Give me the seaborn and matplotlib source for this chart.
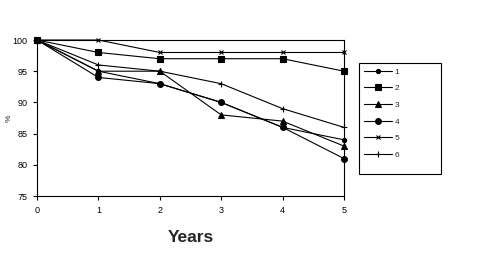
import matplotlib
matplotlib.use("Agg")
import matplotlib.pyplot as plt
from matplotlib.patches import Rectangle
import seaborn as sns
import pandas as pd

years = [0, 1, 2, 3, 4, 5]
s1 = [100, 95, 93, 90, 86, 84]
s2 = [100, 98, 97, 97, 97, 95]
s3 = [100, 95, 95, 88, 87, 83]
s4 = [100, 94, 93, 90, 86, 81]
s5 = [100, 100, 98, 98, 98, 98]
s6 = [100, 96, 95, 93, 89, 86]
labels = ["1", "2", "3", "4", "5", "6"]
series = [s1, s2, s3, s4, s5, s6]

sns.set_style("white")
plt.rcParams['font.family'] = ['Liberation Sans', 'DejaVu Sans']

fig = plt.figure(figsize=(4.85, 2.75), dpi=100)
ax = fig.add_axes([37/485, 1-196/275, (344-37)/485, (196-40)/275])

styles = [("o", 3), ("s", 4.2), ("^", 4.5), ("o", 4.2), ("x", 3.5), ("+", 4.5)]
for lab, vals, (mk, ms) in zip(labels, series, styles):
    df = pd.DataFrame({"Years": years, "pct": vals})
    sns.lineplot(data=df, x="Years", y="pct", ax=ax, color="black", lw=0.8,
                 marker=mk, markersize=ms, markeredgecolor="black",
                 markerfacecolor="black", markeredgewidth=0.8, label=lab,
                 clip_on=False)

ax.set_xlim(0, 5)
ax.set_ylim(75, 100)
ax.set_xticks(years)
ax.set_yticks([75, 80, 85, 90, 95, 100])
ax.tick_params(axis='both', direction='out', length=3, width=0.8,
               labelsize=6.5, colors='black', pad=4)
ax.tick_params(axis='both', which='both', bottom=True, left=True)
for sp in ax.spines.values():
    sp.set_color("black")
    sp.set_linewidth(0.8)
ax.set_xlabel("Years", fontsize=12.5, fontweight="bold")
ax.xaxis.set_label_coords(0.5, -0.215)
ax.set_ylabel("%", fontsize=6)
ax.yaxis.set_label_coords(-0.078, 0.5)

leg = ax.legend(loc="upper left",
                bbox_to_anchor=(359/485, 1-174/275, 82/485, 111/275),
                bbox_transform=fig.transFigure, mode="expand", frameon=False,
                fontsize=6, handlelength=3.3, labelspacing=1.05, borderpad=0.6,
                borderaxespad=0, handletextpad=0.4)
fig.patches.append(Rectangle((359/485, 1-174/275), 82/485, 111/275,
                             transform=fig.transFigure, fill=False,
                             edgecolor="black", linewidth=0.8))

fig.savefig("out.png", dpi=100)
